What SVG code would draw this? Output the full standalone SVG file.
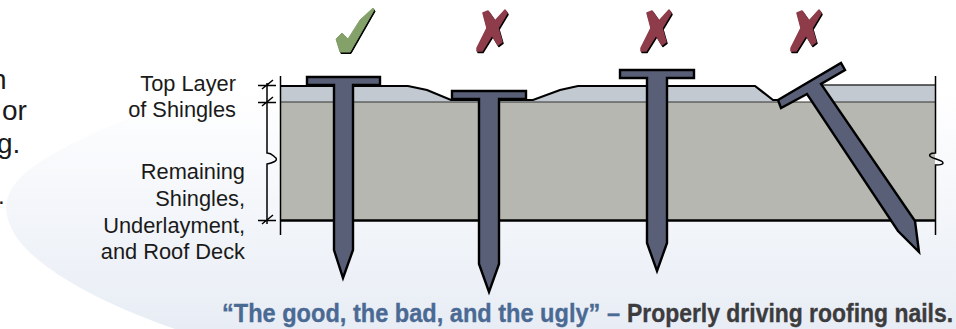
<svg xmlns="http://www.w3.org/2000/svg" width="956" height="329" viewBox="0 0 956 329">
<style>
.l{font-family:"Liberation Sans",Arial,sans-serif;font-size:21.800px;fill:#1a1a1a;text-anchor:end}
.cap{font-family:"Liberation Sans",sans-serif;font-size:26px;font-weight:700;stroke-width:.35}
.nail{fill:#585f77;stroke:#000;stroke-width:2.4;stroke-linejoin:miter}
.ln{fill:none;stroke:#000;stroke-width:2.2}
.thin{fill:none;stroke:#000;stroke-width:1.5}
.xs{stroke-width:1.500;stroke-linejoin:round}
</style>
<defs>
<linearGradient id="bg" x1="0" y1="90" x2="0" y2="329" gradientUnits="userSpaceOnUse">
<stop offset="0" stop-color="#fff"/><stop offset="1" stop-color="#e8edf5"/>
</linearGradient>
<path id="cross" class="xs" d="M-9-18L-4-20L3-10L13-21L15-18L6-3L10 11L6 14L0 4L-10 20L-15 20L-15 17L-5-3Z"/>
</defs>
<rect width="956" height="329" fill="#fff"/>
<path d="M956 50C600 50 240 60 90 135C25 165 -5 190 10 225C25 265 105 305 175 329L956 329Z" fill="url(#bg)"/>
<g id="left-text" font-family="Liberation Sans,sans-serif" font-size="28" fill="#1a1a1a">
<text x="-9" y="89">n</text><text x="2" y="120">or</text><text x="-3" y="153">g.</text><text x="-2" y="204" font-size="24">.</text>
</g>
<g id="roof">
<path d="M281 86H408L427 90L451 100H533L560 90L578 86H755L773 100L780 102H810L820 85H935V102H281Z" fill="#c2c9d1"/>
<rect x="281" y="102" width="654" height="118" fill="#b6b7b0"/>
<path class="ln" d="M281 86H408L427 90L451 100H533L560 90L578 86H755L773 100H778"/>
<path d="M820 85H935" stroke="#333" stroke-width="1.6" fill="none"/>
<path d="M281 102H935" stroke="#333" stroke-width="1.2" fill="none"/>
<path d="M281 220.500H935" stroke="#000" stroke-width="2.4" fill="none"/>
<path class="thin" d="M280.500 76V235"/>
<path class="thin" d="M935.500 76V153C930 153 928 155 931 157C934 159 943 160 943 163C943 165 937 165 935.500 165V235"/>
</g>
<g id="dimension">
<path class="thin" d="M267 83V153C272 153 273 156 276 158C278 161 272 163 267 164V224"/>
<path class="thin" d="M258 85.500H276M258 102.500H276M258 220.500H276M262 89L273 80M262 106L273 97M262 224L273 215"/>
</g>
<g id="nail-good">
<path class="nail" d="M307 77H380V85H353V250L343 278L334 250V85H307Z"/>
<path d="M336 39L342 33L348 39L360 20L373 8L374 10L350 52L340 52Z" fill="#000" stroke="#000" stroke-linejoin="round" transform="translate(1 1.500)"/>
<path d="M336 39L342 33L348 39L360 20L373 8L374 10L350 52L340 52Z" fill="#84a16a" stroke="#84a16a" stroke-linejoin="round"/>
</g>
<g id="nail-deep">
<path class="nail" d="M452 91H526V99H499V264L489 292L479 264V99H452Z"/>
<use href="#cross" x="492" y="31" fill="#000" stroke="#000" transform="translate(1 1.500)"/>
<use href="#cross" x="492" y="31" fill="#8e3b4a" stroke="#8e3b4a"/>
</g>
<g id="nail-high">
<path class="nail" d="M620 70H694V78H667V243L657 271L647 243V78H620Z"/>
<use href="#cross" x="656" y="31" fill="#000" stroke="#000" transform="translate(1 1.500)"/>
<use href="#cross" x="656" y="31" fill="#8e3b4a" stroke="#8e3b4a"/>
</g>
<g id="nail-angled">
<path class="nail" d="M778 100L841 63L845 70L821 84L915 221L919 252L898 231L807 94L781 108Z"/>
<use href="#cross" x="806" y="31" fill="#000" stroke="#000" transform="translate(1 1.500)"/>
<use href="#cross" x="806" y="31" fill="#8e3b4a" stroke="#8e3b4a"/>
</g>
<g id="labels">
<text class="l" x="236" y="91">Top Layer</text>
<text class="l" x="236" y="117">of Shingles</text>
<text class="l" x="245" y="179">Remaining</text>
<text class="l" x="245" y="206">Shingles,</text>
<text class="l" x="245" y="233">Underlayment,</text>
<text class="l" x="245" y="259">and Roof Deck</text>
</g>
<g id="caption">
<text class="cap" x="222" y="322" textLength="398" lengthAdjust="spacingAndGlyphs" fill="#4a6a94" stroke="#4a6a94">“The good, the bad, and the ugly” –</text>
<text class="cap" x="627" y="322" textLength="326" lengthAdjust="spacingAndGlyphs" fill="#3c3c3e" stroke="#3c3c3e">Properly driving roofing nails.</text>
</g>
</svg>
